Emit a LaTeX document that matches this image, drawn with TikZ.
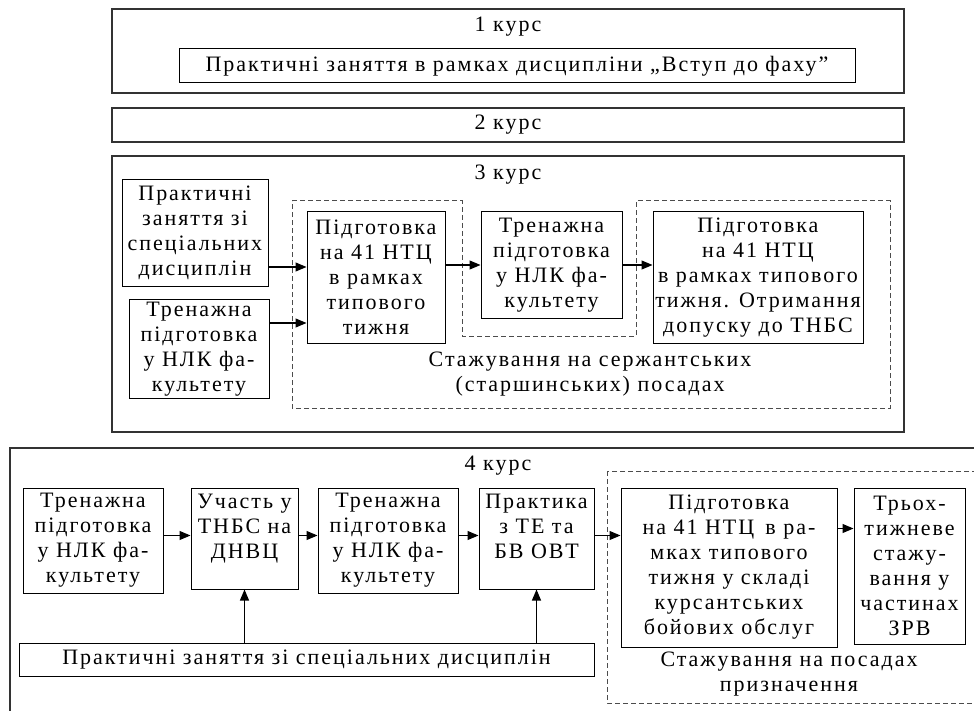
\documentclass[tikz,border=0pt]{standalone}
\usepackage{fontspec}
\setmainfont{Liberation Serif}[LetterSpace=9]
\usetikzlibrary{arrows.meta}

\begin{document}
\begin{tikzpicture}[x=1pt,y=-1pt,
            font=\fontsize{22}{25}\selectfont,
            course/.style={draw=black!80,line width=1.6pt,inner sep=0pt},
            stage/.style={draw,line width=1pt,align=center,inner sep=0pt},
            zone/.style={draw=black!70,line width=1pt,dash pattern=on 5pt off 3pt},
            flow/.style={-{Triangle[length=11pt,width=9pt]},line width=1.1pt}]
            \useasboundingbox (0,0) rectangle (974,711);
            \clip (0,0) rectangle (974,711);
            % 1 and 2
            \node[course,minimum width=792,minimum height=84] (k1) at (508,51) {};
            \node (k1lab) at (508,27) {1 курс};
            \node[stage,minimum width=676,minimum height=34] (p1) at (517,66) {Практичні заняття в рамках дисципліни „Вступ до фаху”};
            \node[course,minimum width=792,minimum height=34] (k2) at (508,125) {2 курс};
            % 3
            \node[course,minimum width=792,minimum height=276] (k3) at (508,294) {};
            \node (k3lab) at (508,175) {3 курс};
            \node[stage,minimum width=146,minimum height=106] (a1) at (195,233) {Практичні\\заняття зі\\спеціальних\\дисциплін};
            \node[stage,minimum width=140,minimum height=99] (a2) at (199,349) {Тренажна\\підготовка\\у НЛК фа-\\культету};
            \node[stage,minimum width=138,minimum height=131] (a3) at (376,277.5) {Підготовка\\на 41 НТЦ\\в рамках\\типового\\тижня};
            \node[stage,minimum width=141,minimum height=106] (a4) at (551.5,265) {Тренажна\\підготовка\\у НЛК фа-\\культету};
            \node[stage,minimum width=210,minimum height=131] (a5) at (758,277.5) {Підготовка\\на 41 НТЦ\\в рамках типового\\тижня. Отримання\\допуску до ТНБС};
            \draw[zone] (292,201) -- (462,201) -- (462,336) -- (636,336) -- (636,201) -- (890,201) -- (890,408) -- (292,408) -- cycle;
            \node[align=center] (z1lab) at (590,374) {Стажування на сержантських\\(старшинських) посадах};
            \draw[flow] ([yshift=-34]a1.east) -- ([yshift=-34]a1.east -| a3.west);
            \draw[flow] ([yshift=26]a2.east) -- ([yshift=26]a2.east -| a3.west);
            \draw[flow] (a3.east |- a4.west) -- (a4.west);
            \draw[flow] (a4.east) -- (a4.east -| a5.west);
            % 4
            \draw[course] (10,448) rectangle (1000,740);
            \node (k4lab) at (498,466) {4 курс};
            \node[stage,minimum width=140,minimum height=105] (b1) at (93,540.5) {Тренажна\\підготовка\\у НЛК фа-\\культету};
            \node[stage,minimum width=107,minimum height=101] (b2) at (244.5,538.5) {Участь у\\ТНБС на\\ДНВЦ\\~};
            \node[stage,minimum width=140,minimum height=105] (b3) at (388,540.5) {Тренажна\\підготовка\\у НЛК фа-\\культету};
            \node[stage,minimum width=115,minimum height=101] (b4) at (536.5,538.5) {Практика\\з ТЕ та\\БВ ОВТ\\~};
            \node[stage,minimum width=575,minimum height=33] (b5) at (306.5,659.5) {Практичні заняття зі спеціальних дисциплін};
            \draw[zone] (607,471) rectangle (1000,703);
            \node[stage,minimum width=216,minimum height=159] (b6) at (729,567.5) {Підготовка\\на 41 НТЦ\, в ра-\\мках типового\\тижня у складі\\курсантських\\бойових обслуг};
            \node[stage,minimum width=111,minimum height=156] (b7) at (909.5,566) {Трьох-\\тижневе\\стажу-\\вання у\\частинах\\ЗРВ};
            \node[align=center] (z2lab) at (789,674) {Стажування на посадах\\призначення};
            \draw[flow] ([yshift=5]b1.east) -- ([yshift=5]b1.east -| b2.west);
            \draw[flow] ([yshift=3]b2.east) -- ([yshift=3]b2.east -| b3.west);
            \draw[flow] ([yshift=5]b3.east) -- ([yshift=5]b3.east -| b4.west);
            \draw[flow] ([yshift=3]b4.east) -- ([yshift=3]b4.east -| b6.west);
            \draw[flow] ([yshift=39]b6.east) -- ([yshift=39]b6.east -| b7.west);
            \draw[flow] (b2.south |- b5.north) -- (b2.south);
            \draw[flow] (b4.south |- b5.north) -- (b4.south);
        \end{tikzpicture}
\end{document}
